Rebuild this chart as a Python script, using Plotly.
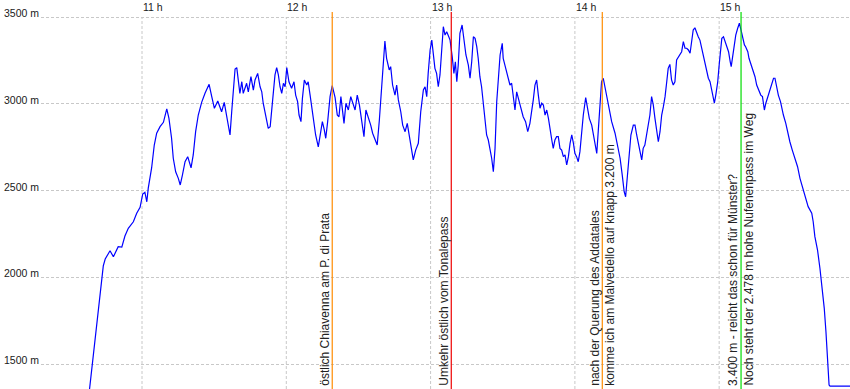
import plotly.graph_objects as go

# elapsed minutes after 10:00 and altitude in metres
time_min = [37.9, 41.2, 43.2, 43.9, 44.7, 46.7, 48.1, 50.1, 51.6, 52.9, 54.3, 56.4, 57.8, 59.2, 60.3, 61.2, 62.0, 62.6,
            64.0, 65.1, 66.1, 67.5, 68.9, 70.3, 71.2, 72.3, 73.0, 74.0, 75.1, 75.9, 76.8, 77.9, 79.0, 80.4, 81.3, 82.3,
            83.4, 84.8, 86.2, 87.9, 89.0, 90.1, 91.5, 92.1, 93.1, 94.2, 95.2, 95.9, 96.6, 97.3, 98.0, 98.7, 99.4, 100.0,
            100.7, 101.5, 102.1, 103.5, 104.2, 105.3, 106.3, 107.0, 108.1, 109.1, 109.8, 110.4, 111.4, 112.5, 113.3,
            113.9, 114.6, 115.3, 116.0, 116.7, 117.4, 118.1, 118.8, 119.5, 120.2, 121.1, 122.2, 123.2, 123.9, 124.7,
            125.3, 126.1, 126.7, 127.5, 128.5, 129.1, 129.9, 130.8, 131.6, 132.2, 133.3, 134.0, 135.0, 135.8, 136.4,
            137.2, 138.2, 139.1, 140.3, 141.2, 141.9, 142.7, 143.3, 144.0, 144.8, 145.8, 146.8, 147.9, 148.6, 149.5,
            150.4, 151.4, 152.3, 153.1, 154.1, 155.1, 155.9, 156.9, 157.8, 158.7, 159.7, 160.3, 161.0, 161.7, 162.8,
            163.4, 164.2, 165.2, 165.9, 166.6, 167.6, 168.4, 169.4, 170.3, 171.4, 172.1, 172.8, 173.8, 174.9, 175.9,
            177.0, 177.7, 178.4, 179.0, 179.8, 180.5, 181.1, 181.8, 182.5, 183.2, 183.9, 184.6, 185.3, 186.0, 186.7,
            187.4, 188.1, 189.0, 189.7, 190.3, 190.9, 191.5, 192.2, 193.1, 193.9, 194.7, 195.7, 196.4, 197.1, 197.8,
            198.5, 199.2, 199.8, 200.5, 201.2, 201.9, 202.6, 203.3, 204.0, 204.7, 205.4, 206.1, 206.8, 207.5, 208.2,
            208.9, 209.8, 210.2, 210.9, 211.6, 212.3, 213.0, 213.7, 214.4, 215.1, 215.8, 216.5, 217.2, 217.9, 218.5,
            219.5, 220.4, 221.3, 222.0, 222.7, 223.4, 224.1, 224.8, 225.5, 226.2, 226.9, 227.6, 228.3, 229.0, 229.7,
            230.4, 231.0, 231.7, 232.4, 233.1, 233.8, 234.5, 235.2, 235.9, 236.6, 237.3, 238.0, 238.7, 239.4, 240.0,
            240.7, 241.4, 242.1, 242.8, 243.5, 244.5, 245.2, 246.0, 247.0, 247.7, 248.4, 249.1, 249.7, 250.4, 251.1,
            251.8, 252.5, 253.9, 255.3, 256.7, 257.8, 258.8, 259.7, 260.5, 261.1, 261.8, 262.5, 263.3, 264.3, 265.0,
            265.7, 266.4, 267.1, 267.8, 268.4, 269.1, 269.8, 270.5, 271.2, 271.9, 272.6, 273.3, 274.0, 274.7, 275.4,
            276.1, 276.8, 277.5, 278.2, 278.8, 279.5, 280.2, 280.9, 281.6, 282.3, 283.0, 283.7, 284.4, 285.1, 285.8,
            286.5, 287.2, 287.9, 288.6, 289.2, 289.9, 290.6, 291.3, 292.0, 292.7, 293.4, 294.1, 294.8, 295.5, 296.2,
            296.9, 297.6, 298.0, 298.6, 299.4, 300.0, 300.5, 301.1, 301.8, 302.5, 303.2, 303.9, 304.6, 305.0, 305.5,
            306.2, 306.9, 307.7, 308.4, 309.1, 309.6, 310.5, 311.0, 311.9, 312.4, 313.3, 314.2, 314.9, 315.6, 316.6,
            317.3, 318.0, 318.4, 318.8, 319.4, 320.2, 321.2, 321.9, 322.6, 323.2, 323.9, 324.6, 325.5, 326.0, 326.7,
            327.7, 328.5, 329.4, 330.4, 331.5, 332.6, 333.6, 334.9, 335.9, 337.0, 338.5, 339.1, 339.8, 340.9, 341.9,
            342.9, 343.7, 344.4, 345.1, 345.7, 346.1, 356.0]
altitude_m = [1320, 1749, 2001, 2066, 2105, 2153, 2118, 2176, 2174, 2238, 2282, 2320, 2369, 2403, 2480, 2490, 2435, 2514,
              2630, 2762, 2830, 2868, 2893, 2970, 2916, 2801, 2686, 2608, 2570, 2532, 2589, 2666, 2695, 2631, 2705, 2839,
              2935, 3008, 3060, 3112, 3041, 2974, 3016, 2993, 2954, 3008, 2935, 2877, 2820, 2954, 3069, 3200, 3208, 3137,
              3060, 3127, 3060, 3118, 3069, 3156, 3079, 3137, 3175, 3098, 3069, 3003, 2935, 2858, 2868,
              2954, 3050, 3166, 3208, 3166, 3098, 3060, 3118, 3098, 3208, 3127, 3089, 3127, 3050, 3012,
              2935, 2897, 3031, 3137, 3108, 3127, 3050, 2954, 2877, 2820, 2752, 2820, 2897, 2849, 2801,
              2897, 3041, 3104, 3035, 2935, 2925, 3041, 2954, 2887, 3003, 2964, 3041, 2993, 2964, 3050,
              2993, 2897, 2810, 2964, 2925, 2877, 2830, 2791, 2762, 2906, 3098, 3252, 3362, 3262, 3195,
              3214, 3108, 3050, 3108, 3022, 2954, 2877, 2839, 2887, 2781, 2733, 2676, 2733, 2772, 2954,
              3079, 3098, 3041, 3175, 3310, 3367, 3271, 3204, 3175, 3098, 3166, 3339, 3444, 3396, 3415,
              3392, 3367, 3271, 3175, 3242, 3127, 3223, 3406, 3454, 3367, 3281, 3223, 3147, 3242, 3386,
              3377, 3329, 3262, 3156, 3098, 2993, 2887, 2820, 2791, 2743, 2686, 2608, 2743, 3012, 3175,
              3281, 3348, 3262, 3223, 3185, 3147, 3108, 3118, 3050, 2964, 3069, 3031, 2993, 2964, 2925,
              2897, 2839, 2887, 2945, 3022, 3108, 3137, 3050, 2974, 3003, 2993, 2935, 2964, 2916, 2839,
              2791, 2743, 2791, 2810, 2810, 2743, 2733, 2695, 2705, 2647, 2695, 2772, 2820, 2772, 2714,
              2695, 2666, 2724, 2858, 2935, 3035, 2983, 2916, 2877, 2820, 2752, 2714, 2839, 2983, 3127,
              3147, 3098, 2993, 2897, 2830, 2743, 2686, 2589, 2493, 2464, 2570, 2705, 2820, 2877, 2877,
              2820, 2762, 2724, 2676, 2743, 2762, 2820, 2858, 2935, 3041, 2993, 2916, 2858, 2781, 2839,
              2935, 2983, 3041, 3127, 3204, 3227, 3137, 3108, 3127, 3252, 3271, 3281, 3300, 3358, 3320,
              3320, 3310, 3291, 3377, 3425, 3438, 3406, 3386, 3367, 3320, 3281, 3223, 3175, 3147, 3127,
              3079, 3041, 3003, 3050, 3127, 3223, 3320, 3377, 3386, 3358, 3329, 3300, 3242, 3214, 3262,
              3339, 3396, 3435, 3464, 3425, 3386, 3339, 3329, 3300, 3262, 3223, 3185, 3156, 3108, 3069,
              3050, 3041, 3003, 2964, 3003, 3041, 3079, 3118, 3147, 3147, 3098, 3050, 3012, 2974, 2935,
              2887, 2830, 2781, 2733, 2686, 2637, 2570, 2503, 2455, 2407, 2369, 2320, 2234, 2157, 2052,
              1936, 1821, 1686, 1513, 1379, 1373, 1373]

hour_ticks = [11, 12, 13, 14, 15]
hour_labels = ["11 h", "12 h", "13 h", "14 h", "15 h"]
alt_ticks = [1500, 2000, 2500, 3000, 3500]
alt_labels = ["1500 m", "2000 m", "2500 m", "3000 m", "3500 m"]

marker_min = [139.1, 188.6, 251.4, 309.1]
marker_colors = ["#ff8c00", "#ee0000", "#ff8c00", "#00dd00"]
marker_left = ["östlich Chiavenna am P. di Prata", "Umkehr östlich vom Tonalepass",
               "nach der Querung des Addatales", "3.400 m - reicht das schon für Münster?"]
marker_right = ["", "", "komme ich am Malvedello auf knapp 3.200 m",
                "Noch steht der 2.478 m hohe Nufenenpass im Weg"]

X_RANGE = [10.3, 15.9067]
Y_RANGE = [1356, 3598]
FONT = "Arial, Liberation Sans, sans-serif"

hours = [10 + m / 60 for m in time_min]

fig = go.Figure()
fig.add_trace(go.Scatter(x=hours, y=altitude_m, mode="lines",
                         line=dict(color="#0000ff", width=1.2), hoverinfo="skip"))

shapes = []
for h in hour_ticks:
    shapes.append(dict(type="line", xref="x", yref="y", x0=h, x1=h, y0=Y_RANGE[0], y1=alt_ticks[-1],
                       line=dict(color="#c8c8c8", width=1, dash="3px,2px"), layer="below"))
annotations = []
for h, lab in zip(hour_ticks, hour_labels):
    annotations.append(dict(x=h, y=1, xref="x", yref="paper", text=lab, showarrow=False,
                            xanchor="left", yanchor="top", xshift=-1, yshift=1,
                            font=dict(family=FONT, size=10.5, color="#1a1a1a")))
for a, lab in zip(alt_ticks, alt_labels):
    annotations.append(dict(x=0, y=a, xref="paper", yref="y", text=lab, showarrow=False,
                            xanchor="right", yanchor="bottom", xshift=0, yshift=-4,
                            font=dict(family=FONT, size=10.5, color="#1a1a1a")))

marker_hours = [10 + m / 60 for m in marker_min]
for h, c, lt, rt in zip(marker_hours, marker_colors, marker_left, marker_right):
    shapes.append(dict(type="line", xref="x", yref="y", x0=h, x1=h, y0=Y_RANGE[0], y1=3529,
                       line=dict(color=c, width=1.2)))
    if lt:
        annotations.append(dict(x=h, y=0, xref="x", yref="paper", text=lt, showarrow=False,
                                textangle=-90, xanchor="right", yanchor="bottom", xshift=1, yshift=1,
                                font=dict(family=FONT, size=12, color="#222222")))
    if rt:
        annotations.append(dict(x=h, y=0, xref="x", yref="paper", text=rt, showarrow=False,
                                textangle=-90, xanchor="left", yanchor="bottom", xshift=-2, yshift=1,
                                font=dict(family=FONT, size=12, color="#222222")))

fig.update_layout(
    width=850, height=389,
    margin=dict(l=41, r=0, t=0, b=0),
    paper_bgcolor="white", plot_bgcolor="white",
    showlegend=False,
    shapes=shapes, annotations=annotations,
    xaxis=dict(range=X_RANGE, showgrid=False, zeroline=False, showticklabels=False,
               showline=False, ticks=""),
    yaxis=dict(range=Y_RANGE, tickvals=alt_ticks, showticklabels=False, showgrid=True,
               gridcolor="#c8c8c8", gridwidth=1, griddash="3px,2px", zeroline=False,
               showline=False, ticks=""),
)

fig.write_html("out.html", config={"displayModeBar": False},
               post_script="document.body.style.margin='0';document.body.style.overflow='hidden';")
